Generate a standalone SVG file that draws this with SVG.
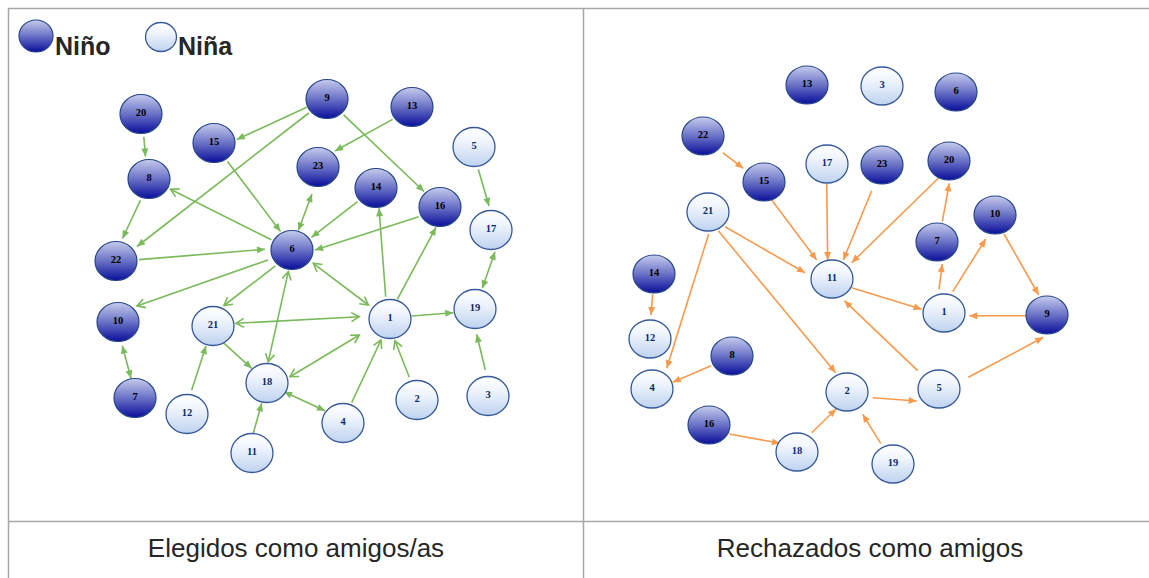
<svg xmlns="http://www.w3.org/2000/svg" width="1149" height="578" viewBox="0 0 1149 578">
<style>
.boy ellipse{fill:url(#gBoy);stroke:#26468a;stroke-width:1.2}
.girl ellipse{fill:url(#gGirl);stroke:#36599a;stroke-width:1.3}
.node text{font-family:"Liberation Serif",serif;font-weight:bold;font-size:10.5px;text-anchor:middle}
.boy text{fill:#000}
.girl text{fill:#0b2c6a}
.ge{stroke:#7aba5a;stroke-width:1.6;fill:none}
.oe{stroke:#f79a4e;stroke-width:1.6;fill:none}
.grid{stroke:#a6a6a6;stroke-width:1.5}
.leg{font-family:"Liberation Sans",Arial,sans-serif;font-weight:bold;font-size:25px;fill:#262626}
.cap{font-family:"Liberation Sans",Arial,sans-serif;font-size:26px;fill:#262626;text-anchor:middle}
</style>
<defs>
<linearGradient id="gBoy" x1="0" y1="0" x2="0" y2="1">
<stop offset="0" stop-color="#c6cbec"/><stop offset="0.5" stop-color="#6a72c6"/><stop offset="1" stop-color="#0a0e9a"/>
</linearGradient>
<linearGradient id="gGirl" x1="0" y1="0" x2="0" y2="1">
<stop offset="0" stop-color="#ffffff"/><stop offset="0.35" stop-color="#f0f5fd"/><stop offset="1" stop-color="#bed2ef"/>
</linearGradient>
<marker id="gTri" markerUnits="userSpaceOnUse" markerWidth="12" markerHeight="10" viewBox="-10 -5 12 10" refX="0" refY="0" orient="auto-start-reverse"><path d="M-8,-3.5 L0,0 L-8,3.5 z" fill="#7aba5a"/></marker>
<marker id="gVee" markerUnits="userSpaceOnUse" markerWidth="14" markerHeight="12" viewBox="-11 -6 14 12" refX="0" refY="0" orient="auto-start-reverse"><path d="M-8,-4.5 L0,0 L-8,4.5" fill="none" stroke="#7aba5a" stroke-width="1.6"/></marker>
<marker id="oTri" markerUnits="userSpaceOnUse" markerWidth="12" markerHeight="10" viewBox="-10 -5 12 10" refX="0" refY="0" orient="auto-start-reverse"><path d="M-8,-3.5 L0,0 L-8,3.5 z" fill="#f79a4e"/></marker>
</defs>
<rect width="1149" height="578" fill="#fff"/>
<g id="table">
<line class="grid" x1="8" y1="8.5" x2="1149" y2="8.5"/>
<line class="grid" x1="8.5" y1="8" x2="8.5" y2="578"/>
<line class="grid" x1="583.5" y1="8" x2="583.5" y2="578"/>
<line class="grid" x1="8" y1="521.5" x2="1149" y2="521.5"/>
</g>
<g id="legend">
<ellipse class="legboy" cx="36" cy="36" rx="17" ry="16" fill="url(#gBoy)" stroke="#26468a" stroke-width="1.2"/>
<text class="leg" x="55" y="55">Niño</text>
<ellipse cx="161" cy="37" rx="15.5" ry="14.5" fill="url(#gGirl)" stroke="#36599a" stroke-width="1.3"/>
<text class="leg" x="178" y="55">Niña</text>
</g>
<g id="connectors-left">
<line class="ge" x1="143.8" y1="136.8" x2="145.5" y2="156.5" marker-end="url(#gTri)"/>
<line class="ge" x1="306.7" y1="107.3" x2="236.7" y2="139.5" marker-end="url(#gTri)"/>
<line class="ge" x1="308.8" y1="113" x2="137" y2="246.5" marker-end="url(#gTri)"/>
<line class="ge" x1="343.6" y1="114.9" x2="424" y2="191.5" marker-end="url(#gTri)"/>
<line class="ge" x1="392.6" y1="119.4" x2="335" y2="151" marker-end="url(#gTri)"/>
<line class="ge" x1="227.5" y1="161.6" x2="280.5" y2="231.5" marker-end="url(#gTri)"/>
<line class="ge" x1="140.4" y1="200.3" x2="122.5" y2="238.5" marker-end="url(#gTri)"/>
<line class="ge" x1="271.4" y1="239.8" x2="170.5" y2="189.3" marker-end="url(#gVee)"/>
<line class="ge" x1="312" y1="194" x2="298.3" y2="230.5" marker-start="url(#gTri)" marker-end="url(#gTri)"/>
<line class="ge" x1="357.5" y1="201.7" x2="311.5" y2="237.3" marker-end="url(#gTri)"/>
<line class="ge" x1="418.7" y1="216.7" x2="315" y2="250" marker-end="url(#gTri)"/>
<line class="ge" x1="139" y1="259.6" x2="265" y2="249.3" marker-end="url(#gTri)"/>
<line class="ge" x1="268" y1="260" x2="137" y2="306" marker-end="url(#gVee)"/>
<line class="ge" x1="275.4" y1="265.9" x2="224" y2="305.5" marker-end="url(#gVee)"/>
<line class="ge" x1="288.3" y1="271.7" x2="268.3" y2="361.7" marker-start="url(#gVee)" marker-end="url(#gVee)"/>
<line class="ge" x1="313.3" y1="263.3" x2="368.3" y2="305" marker-start="url(#gVee)" marker-end="url(#gVee)"/>
<line class="ge" x1="385.7" y1="296.7" x2="379" y2="208.3" marker-end="url(#gTri)"/>
<line class="ge" x1="397.3" y1="299.3" x2="436" y2="227.3" marker-end="url(#gTri)"/>
<line class="ge" x1="411.7" y1="316" x2="453.3" y2="312.7" marker-end="url(#gTri)"/>
<line class="ge" x1="236" y1="323.3" x2="359.3" y2="316.7" marker-start="url(#gVee)" marker-end="url(#gVee)"/>
<line class="ge" x1="223.3" y1="342.7" x2="251.7" y2="368.3" marker-end="url(#gTri)"/>
<line class="ge" x1="191.7" y1="390" x2="206" y2="346" marker-end="url(#gTri)"/>
<line class="ge" x1="290" y1="376.7" x2="359.3" y2="335" marker-start="url(#gVee)" marker-end="url(#gVee)"/>
<line class="ge" x1="284" y1="391.7" x2="325" y2="410.7" marker-start="url(#gTri)" marker-end="url(#gTri)"/>
<line class="ge" x1="253.3" y1="433.3" x2="261.7" y2="403.3" marker-end="url(#gTri)"/>
<line class="ge" x1="351.7" y1="402.7" x2="381" y2="340" marker-end="url(#gVee)"/>
<line class="ge" x1="409.3" y1="377.3" x2="395" y2="340.7" marker-end="url(#gVee)"/>
<line class="ge" x1="485.3" y1="370" x2="476.7" y2="334.3" marker-end="url(#gTri)"/>
<line class="ge" x1="478.3" y1="169.3" x2="489" y2="206" marker-end="url(#gTri)"/>
<line class="ge" x1="495" y1="251.7" x2="482.3" y2="288.3" marker-start="url(#gTri)" marker-end="url(#gTri)"/>
<line class="ge" x1="122.3" y1="345.7" x2="131" y2="378.3" marker-start="url(#gTri)" marker-end="url(#gTri)"/>
</g>
<g id="connectors-right">
<line class="oe" x1="722.7" y1="152.7" x2="743.3" y2="168.3" marker-end="url(#oTri)"/>
<line class="oe" x1="771.7" y1="200" x2="816.7" y2="260" marker-end="url(#oTri)"/>
<line class="oe" x1="826.7" y1="184" x2="827.7" y2="260" marker-end="url(#oTri)"/>
<line class="oe" x1="871.7" y1="190.7" x2="843.3" y2="260" marker-end="url(#oTri)"/>
<line class="oe" x1="938.3" y1="178.3" x2="851.7" y2="262.7" marker-end="url(#oTri)"/>
<line class="oe" x1="725" y1="226.7" x2="805" y2="272.7" marker-end="url(#oTri)"/>
<line class="oe" x1="708.7" y1="234" x2="666.7" y2="368.3" marker-end="url(#oTri)"/>
<line class="oe" x1="718.3" y1="230.7" x2="835.7" y2="372.7" marker-end="url(#oTri)"/>
<line class="oe" x1="652.7" y1="294" x2="651" y2="315" marker-end="url(#oTri)"/>
<line class="oe" x1="711" y1="365.7" x2="672.7" y2="382.3" marker-end="url(#oTri)"/>
<line class="oe" x1="729.3" y1="434" x2="780" y2="443.3" marker-end="url(#oTri)"/>
<line class="oe" x1="811.7" y1="432.7" x2="836" y2="409" marker-end="url(#oTri)"/>
<line class="oe" x1="880.7" y1="443.3" x2="862.7" y2="414.3" marker-end="url(#oTri)"/>
<line class="oe" x1="872.7" y1="397.7" x2="916.7" y2="401" marker-end="url(#oTri)"/>
<line class="oe" x1="917.7" y1="370.7" x2="844.3" y2="300.7" marker-end="url(#oTri)"/>
<line class="oe" x1="968.3" y1="377.3" x2="1043.3" y2="337.3" marker-end="url(#oTri)"/>
<line class="oe" x1="1026.7" y1="315.7" x2="969.3" y2="315.7" marker-end="url(#oTri)"/>
<line class="oe" x1="851.7" y1="287.7" x2="921.7" y2="309.3" marker-end="url(#oTri)"/>
<line class="oe" x1="939" y1="289.3" x2="942.3" y2="264" marker-end="url(#oTri)"/>
<line class="oe" x1="952.7" y1="291.7" x2="985.7" y2="239" marker-end="url(#oTri)"/>
<line class="oe" x1="1004" y1="234" x2="1038.7" y2="295" marker-end="url(#oTri)"/>
<line class="oe" x1="942.3" y1="221.7" x2="949.3" y2="183.3" marker-end="url(#oTri)"/>
</g>
<g id="L-n1" class="node girl"><ellipse cx="390" cy="319" rx="21" ry="19.5"/><text x="390" y="321">1</text></g>
<g id="L-n2" class="node girl"><ellipse cx="417" cy="400" rx="21" ry="19.5"/><text x="417" y="402">2</text></g>
<g id="L-n3" class="node girl"><ellipse cx="488" cy="396" rx="21" ry="19.5"/><text x="488" y="398">3</text></g>
<g id="L-n4" class="node girl"><ellipse cx="343" cy="423" rx="21" ry="19.5"/><text x="343" y="425">4</text></g>
<g id="L-n5" class="node girl"><ellipse cx="474" cy="147" rx="21" ry="19.5"/><text x="474" y="149">5</text></g>
<g id="L-n6" class="node boy"><ellipse cx="292" cy="250" rx="21" ry="19.5"/><text x="292" y="252">6</text></g>
<g id="L-n7" class="node boy"><ellipse cx="135" cy="398" rx="21" ry="19.5"/><text x="135" y="400">7</text></g>
<g id="L-n8" class="node boy"><ellipse cx="149" cy="179" rx="21" ry="19.5"/><text x="149" y="181">8</text></g>
<g id="L-n9" class="node boy"><ellipse cx="327" cy="99" rx="21" ry="19.5"/><text x="327" y="101">9</text></g>
<g id="L-n10" class="node boy"><ellipse cx="118" cy="322" rx="21" ry="19.5"/><text x="118" y="324">10</text></g>
<g id="L-n11" class="node girl"><ellipse cx="252" cy="453" rx="21" ry="19.5"/><text x="252" y="455">11</text></g>
<g id="L-n12" class="node girl"><ellipse cx="187" cy="414" rx="21" ry="19.5"/><text x="187" y="416">12</text></g>
<g id="L-n13" class="node boy"><ellipse cx="412" cy="107" rx="21" ry="19.5"/><text x="412" y="109">13</text></g>
<g id="L-n14" class="node boy"><ellipse cx="376" cy="188" rx="21" ry="19.5"/><text x="376" y="190">14</text></g>
<g id="L-n15" class="node boy"><ellipse cx="214" cy="143" rx="21" ry="19.5"/><text x="214" y="145">15</text></g>
<g id="L-n16" class="node boy"><ellipse cx="440" cy="207" rx="21" ry="19.5"/><text x="440" y="209">16</text></g>
<g id="L-n17" class="node girl"><ellipse cx="491" cy="230" rx="21" ry="19.5"/><text x="491" y="232">17</text></g>
<g id="L-n18" class="node girl"><ellipse cx="267" cy="383" rx="21" ry="19.5"/><text x="267" y="385">18</text></g>
<g id="L-n19" class="node girl"><ellipse cx="475" cy="309" rx="21" ry="19.5"/><text x="475" y="311">19</text></g>
<g id="L-n20" class="node boy"><ellipse cx="141" cy="114" rx="21" ry="19.5"/><text x="141" y="116">20</text></g>
<g id="L-n21" class="node girl"><ellipse cx="213" cy="326" rx="21" ry="19.5"/><text x="213" y="328">21</text></g>
<g id="L-n22" class="node boy"><ellipse cx="116" cy="261" rx="21" ry="19.5"/><text x="116" y="263">22</text></g>
<g id="L-n23" class="node boy"><ellipse cx="318" cy="167" rx="21" ry="19.5"/><text x="318" y="169">23</text></g>
<g id="R-n1" class="node girl"><ellipse cx="944" cy="313" rx="21" ry="19"/><text x="944" y="315">1</text></g>
<g id="R-n2" class="node girl"><ellipse cx="847" cy="392" rx="21" ry="19"/><text x="847" y="394">2</text></g>
<g id="R-n3" class="node girl"><ellipse cx="882" cy="86" rx="21" ry="19"/><text x="882" y="88">3</text></g>
<g id="R-n4" class="node girl"><ellipse cx="652" cy="389" rx="21" ry="19"/><text x="652" y="391">4</text></g>
<g id="R-n5" class="node girl"><ellipse cx="939" cy="389" rx="21" ry="19"/><text x="939" y="391">5</text></g>
<g id="R-n6" class="node boy"><ellipse cx="956" cy="92" rx="21" ry="19"/><text x="956" y="94">6</text></g>
<g id="R-n7" class="node boy"><ellipse cx="937" cy="242" rx="21" ry="19"/><text x="937" y="244">7</text></g>
<g id="R-n8" class="node boy"><ellipse cx="732" cy="356" rx="21" ry="19"/><text x="732" y="358">8</text></g>
<g id="R-n9" class="node boy"><ellipse cx="1047" cy="315" rx="21" ry="19"/><text x="1047" y="317">9</text></g>
<g id="R-n10" class="node boy"><ellipse cx="995" cy="215" rx="21" ry="19"/><text x="995" y="217">10</text></g>
<g id="R-n11" class="node girl"><ellipse cx="832" cy="279" rx="21" ry="19"/><text x="832" y="281">11</text></g>
<g id="R-n12" class="node girl"><ellipse cx="650" cy="339" rx="21" ry="19"/><text x="650" y="341">12</text></g>
<g id="R-n13" class="node boy"><ellipse cx="807" cy="85" rx="21" ry="19"/><text x="807" y="87">13</text></g>
<g id="R-n14" class="node boy"><ellipse cx="654" cy="274" rx="21" ry="19"/><text x="654" y="276">14</text></g>
<g id="R-n15" class="node boy"><ellipse cx="764" cy="182" rx="21" ry="19"/><text x="764" y="184">15</text></g>
<g id="R-n16" class="node boy"><ellipse cx="709" cy="425" rx="21" ry="19"/><text x="709" y="427">16</text></g>
<g id="R-n17" class="node girl"><ellipse cx="827" cy="164" rx="21" ry="19"/><text x="827" y="166">17</text></g>
<g id="R-n18" class="node girl"><ellipse cx="797" cy="452" rx="21" ry="19"/><text x="797" y="454">18</text></g>
<g id="R-n19" class="node girl"><ellipse cx="893" cy="464" rx="21" ry="19"/><text x="893" y="466">19</text></g>
<g id="R-n20" class="node boy"><ellipse cx="949" cy="161" rx="21" ry="19"/><text x="949" y="163">20</text></g>
<g id="R-n21" class="node girl"><ellipse cx="708" cy="212" rx="21" ry="19"/><text x="708" y="214">21</text></g>
<g id="R-n22" class="node boy"><ellipse cx="703" cy="136" rx="21" ry="19"/><text x="703" y="138">22</text></g>
<g id="R-n23" class="node boy"><ellipse cx="882" cy="165" rx="21" ry="19"/><text x="882" y="167">23</text></g>
<g id="captions">
<text class="cap" x="296" y="557">Elegidos como amigos/as</text>
<text class="cap" x="870" y="557">Rechazados como amigos</text>
</g>
</svg>
